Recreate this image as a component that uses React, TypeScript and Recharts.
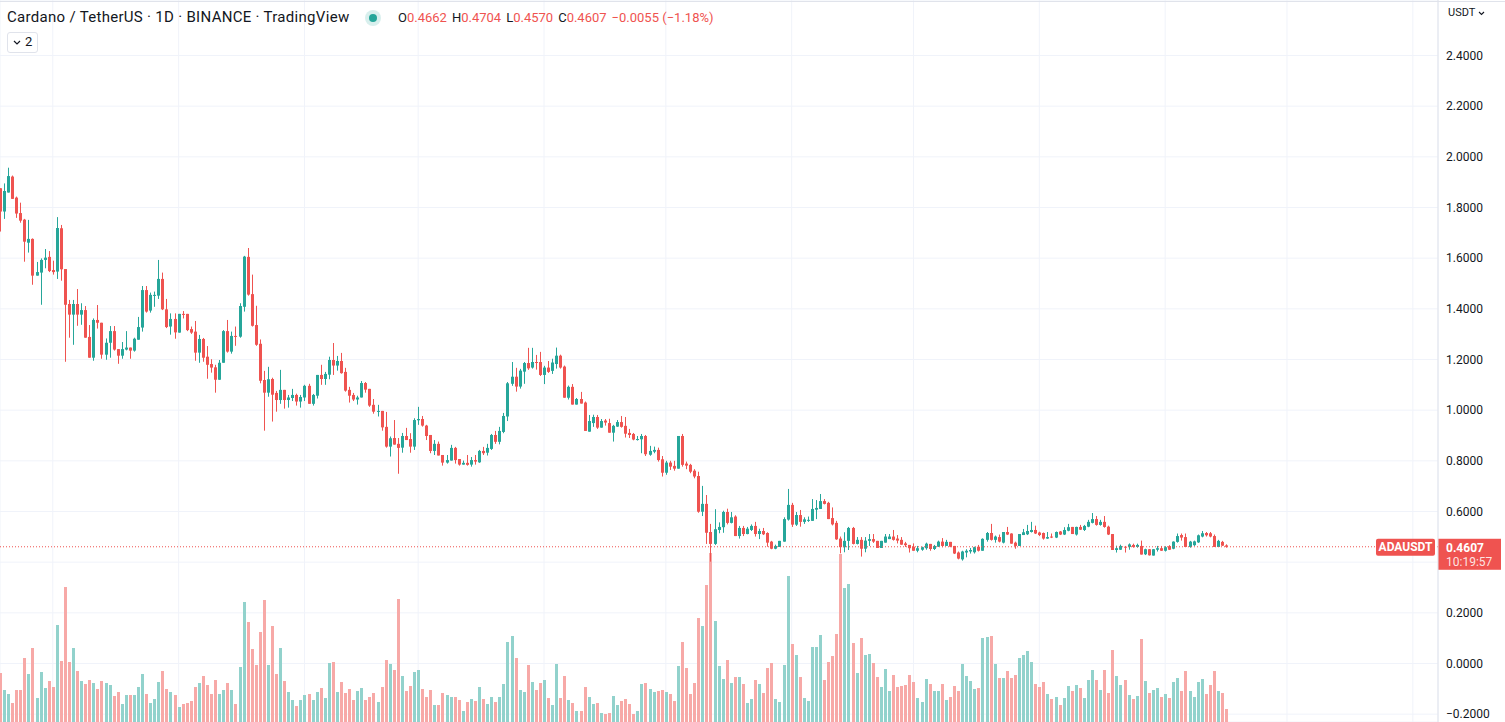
import React from "react";
import {
  ComposedChart,
  Bar,
  XAxis,
  YAxis,
  CartesianGrid,
  ReferenceLine
} from "recharts";

// ADA/USDT daily candles (oldest first)
const opens = [
  1.876, 1.784, 1.859, 1.922, 1.839, 1.778, 1.752, 1.661, 1.676, 1.531, 1.543, 1.593, 1.605, 1.553, 1.547, 1.718, 1.557, 1.419, 1.377, 1.419,
  1.377, 1.395, 1.289, 1.207, 1.356, 1.345, 1.219, 1.266, 1.312, 1.241, 1.215, 1.239, 1.247, 1.235, 1.278, 1.326, 1.474, 1.393, 1.451, 1.452,
  1.518, 1.398, 1.330, 1.360, 1.306, 1.380, 1.380, 1.320, 1.310, 1.227, 1.281, 1.211, 1.182, 1.169, 1.120, 1.187, 1.312, 1.231, 1.293, 1.290,
  1.408, 1.605, 1.458, 1.336, 1.262, 1.119, 1.069, 1.123, 1.068, 1.040, 1.080, 1.040, 1.048, 1.060, 1.034, 1.050, 1.096, 1.025, 1.057, 1.139,
  1.123, 1.140, 1.198, 1.176, 1.194, 1.151, 1.080, 1.060, 1.042, 1.050, 1.107, 1.084, 1.021, 0.994, 0.997, 0.934, 0.856, 0.890, 0.867, 0.852,
  0.898, 0.886, 0.856, 0.960, 0.965, 0.939, 0.902, 0.839, 0.867, 0.823, 0.793, 0.801, 0.851, 0.807, 0.785, 0.792, 0.785, 0.803, 0.794, 0.839,
  0.832, 0.847, 0.902, 0.875, 0.914, 0.975, 1.104, 1.132, 1.093, 1.152, 1.186, 1.168, 1.190, 1.190, 1.139, 1.168, 1.155, 1.182, 1.215, 1.172,
  1.049, 1.092, 1.022, 1.044, 1.030, 0.915, 0.949, 0.973, 0.931, 0.959, 0.949, 0.911, 0.935, 0.953, 0.938, 0.910, 0.906, 0.882, 0.885, 0.898,
  0.824, 0.836, 0.843, 0.806, 0.753, 0.793, 0.780, 0.769, 0.898, 0.789, 0.784, 0.761, 0.740, 0.599, 0.630, 0.519, 0.472, 0.527, 0.538, 0.598,
  0.555, 0.580, 0.503, 0.535, 0.511, 0.527, 0.543, 0.511, 0.523, 0.515, 0.481, 0.453, 0.460, 0.481, 0.568, 0.626, 0.548, 0.586, 0.559, 0.563,
  0.563, 0.607, 0.610, 0.641, 0.634, 0.574, 0.555, 0.493, 0.459, 0.484, 0.535, 0.472, 0.488, 0.453, 0.484, 0.491, 0.484, 0.456, 0.477, 0.491,
  0.501, 0.493, 0.488, 0.474, 0.468, 0.461, 0.445, 0.449, 0.455, 0.472, 0.452, 0.461, 0.481, 0.464, 0.480, 0.464, 0.438, 0.411, 0.438, 0.442,
  0.439, 0.461, 0.445, 0.488, 0.515, 0.488, 0.499, 0.477, 0.519, 0.513, 0.477, 0.464, 0.507, 0.510, 0.519, 0.527, 0.517, 0.515, 0.493, 0.501,
  0.497, 0.521, 0.509, 0.524, 0.539, 0.509, 0.539, 0.527, 0.540, 0.555, 0.570, 0.547, 0.559, 0.540, 0.511, 0.448, 0.449, 0.461, 0.460, 0.468,
  0.460, 0.464, 0.431, 0.451, 0.426, 0.449, 0.455, 0.445, 0.463, 0.453, 0.480, 0.507, 0.499, 0.460, 0.467, 0.478, 0.501, 0.515, 0.514, 0.503,
  0.460, 0.480, 0.4662
];

const highs = [
  1.876, 1.895, 1.957, 1.926, 1.843, 1.819, 1.755, 1.751, 1.678, 1.585, 1.599, 1.636, 1.628, 1.590, 1.762, 1.731, 1.557, 1.435, 1.435, 1.478,
  1.422, 1.411, 1.336, 1.362, 1.415, 1.345, 1.283, 1.332, 1.332, 1.241, 1.269, 1.312, 1.247, 1.286, 1.368, 1.490, 1.490, 1.464, 1.468, 1.593,
  1.543, 1.439, 1.382, 1.382, 1.380, 1.391, 1.380, 1.330, 1.352, 1.297, 1.285, 1.253, 1.201, 1.179, 1.198, 1.316, 1.356, 1.310, 1.330, 1.422,
  1.609, 1.640, 1.535, 1.412, 1.279, 1.155, 1.171, 1.128, 1.076, 1.159, 1.080, 1.060, 1.084, 1.065, 1.060, 1.100, 1.104, 1.064, 1.139, 1.179,
  1.151, 1.211, 1.265, 1.214, 1.226, 1.167, 1.092, 1.068, 1.057, 1.115, 1.111, 1.084, 1.044, 1.021, 0.997, 0.993, 0.896, 0.961, 0.890, 0.910,
  0.930, 0.909, 0.968, 1.013, 0.977, 0.942, 0.902, 0.882, 0.876, 0.823, 0.823, 0.863, 0.855, 0.807, 0.801, 0.823, 0.815, 0.823, 0.843, 0.855,
  0.867, 0.906, 0.918, 0.934, 0.989, 1.111, 1.190, 1.167, 1.163, 1.190, 1.246, 1.246, 1.218, 1.230, 1.175, 1.194, 1.203, 1.247, 1.219, 1.176,
  1.097, 1.103, 1.048, 1.072, 1.034, 0.981, 0.982, 0.981, 0.965, 0.965, 0.966, 0.942, 0.961, 0.977, 0.973, 0.926, 0.910, 0.898, 0.906, 0.902,
  0.859, 0.856, 0.852, 0.819, 0.800, 0.800, 0.800, 0.898, 0.906, 0.797, 0.788, 0.767, 0.757, 0.701, 0.665, 0.551, 0.609, 0.557, 0.603, 0.611,
  0.598, 0.585, 0.543, 0.543, 0.539, 0.549, 0.559, 0.532, 0.535, 0.518, 0.484, 0.469, 0.484, 0.577, 0.689, 0.634, 0.598, 0.606, 0.577, 0.580,
  0.649, 0.645, 0.669, 0.649, 0.638, 0.616, 0.563, 0.501, 0.518, 0.539, 0.539, 0.499, 0.499, 0.499, 0.511, 0.511, 0.484, 0.484, 0.511, 0.511,
  0.527, 0.507, 0.499, 0.480, 0.468, 0.474, 0.464, 0.461, 0.477, 0.472, 0.468, 0.485, 0.495, 0.488, 0.480, 0.464, 0.442, 0.445, 0.451, 0.456,
  0.461, 0.468, 0.494, 0.519, 0.551, 0.505, 0.509, 0.519, 0.539, 0.514, 0.481, 0.511, 0.531, 0.547, 0.559, 0.544, 0.520, 0.517, 0.519, 0.513,
  0.521, 0.523, 0.538, 0.551, 0.539, 0.540, 0.547, 0.547, 0.567, 0.594, 0.582, 0.567, 0.582, 0.544, 0.511, 0.465, 0.469, 0.464, 0.474, 0.473,
  0.473, 0.485, 0.453, 0.452, 0.452, 0.464, 0.464, 0.463, 0.467, 0.482, 0.513, 0.513, 0.513, 0.484, 0.485, 0.509, 0.523, 0.519, 0.519, 0.509,
  0.488, 0.484, 0.4704
];

const lows = [
  1.705, 1.755, 1.859, 1.834, 1.759, 1.740, 1.586, 1.622, 1.495, 1.531, 1.416, 1.560, 1.545, 1.535, 1.518, 1.511, 1.191, 1.286, 1.258, 1.333,
  1.337, 1.286, 1.207, 1.195, 1.322, 1.203, 1.199, 1.207, 1.235, 1.183, 1.203, 1.236, 1.203, 1.231, 1.278, 1.310, 1.385, 1.385, 1.408, 1.439,
  1.395, 1.324, 1.298, 1.282, 1.306, 1.362, 1.312, 1.301, 1.195, 1.187, 1.191, 1.124, 1.148, 1.069, 1.120, 1.187, 1.227, 1.223, 1.254, 1.286,
  1.389, 1.452, 1.330, 1.254, 1.106, 0.919, 1.053, 0.955, 0.994, 1.025, 1.006, 1.010, 1.036, 1.018, 1.010, 1.036, 1.025, 1.018, 1.046, 1.100,
  1.100, 1.122, 1.139, 1.156, 1.144, 1.073, 1.030, 1.036, 1.022, 1.050, 1.069, 1.013, 0.986, 0.975, 0.919, 0.852, 0.817, 0.864, 0.749, 0.832,
  0.882, 0.832, 0.843, 0.942, 0.935, 0.882, 0.830, 0.823, 0.821, 0.781, 0.789, 0.801, 0.789, 0.781, 0.785, 0.781, 0.777, 0.785, 0.792, 0.823,
  0.821, 0.843, 0.867, 0.865, 0.909, 0.957, 1.096, 1.073, 1.085, 1.104, 1.159, 1.164, 1.160, 1.135, 1.103, 1.147, 1.143, 1.164, 1.164, 1.049,
  1.042, 1.022, 1.022, 1.026, 0.918, 0.915, 0.934, 0.926, 0.931, 0.939, 0.911, 0.876, 0.934, 0.931, 0.892, 0.890, 0.881, 0.880, 0.830, 0.819,
  0.820, 0.830, 0.797, 0.738, 0.745, 0.764, 0.761, 0.769, 0.777, 0.767, 0.751, 0.731, 0.595, 0.582, 0.472, 0.402, 0.468, 0.514, 0.516, 0.549,
  0.553, 0.503, 0.493, 0.503, 0.510, 0.523, 0.501, 0.491, 0.507, 0.461, 0.451, 0.451, 0.460, 0.481, 0.564, 0.539, 0.543, 0.540, 0.551, 0.559,
  0.563, 0.570, 0.610, 0.628, 0.570, 0.545, 0.488, 0.435, 0.439, 0.448, 0.470, 0.470, 0.422, 0.439, 0.464, 0.476, 0.456, 0.456, 0.477, 0.491,
  0.485, 0.474, 0.469, 0.460, 0.438, 0.445, 0.439, 0.445, 0.449, 0.445, 0.448, 0.460, 0.459, 0.464, 0.459, 0.432, 0.411, 0.406, 0.419, 0.434,
  0.434, 0.442, 0.445, 0.481, 0.485, 0.477, 0.478, 0.474, 0.507, 0.473, 0.453, 0.464, 0.507, 0.507, 0.517, 0.511, 0.503, 0.489, 0.492, 0.495,
  0.495, 0.507, 0.507, 0.522, 0.511, 0.505, 0.527, 0.523, 0.538, 0.553, 0.544, 0.544, 0.536, 0.507, 0.448, 0.438, 0.448, 0.438, 0.449, 0.457,
  0.457, 0.430, 0.428, 0.426, 0.426, 0.442, 0.444, 0.442, 0.448, 0.451, 0.477, 0.485, 0.460, 0.457, 0.464, 0.476, 0.498, 0.501, 0.498, 0.460,
  0.460, 0.464, 0.4570
];

const closes = [
  1.784, 1.865, 1.924, 1.834, 1.776, 1.748, 1.665, 1.676, 1.531, 1.545, 1.593, 1.602, 1.549, 1.545, 1.719, 1.556, 1.416, 1.377, 1.419, 1.377,
  1.395, 1.286, 1.207, 1.356, 1.345, 1.219, 1.266, 1.312, 1.239, 1.215, 1.241, 1.247, 1.235, 1.282, 1.328, 1.474, 1.389, 1.455, 1.455, 1.518,
  1.398, 1.328, 1.360, 1.307, 1.380, 1.376, 1.316, 1.306, 1.227, 1.281, 1.207, 1.179, 1.168, 1.120, 1.187, 1.312, 1.231, 1.293, 1.290, 1.411,
  1.606, 1.456, 1.333, 1.258, 1.116, 1.069, 1.122, 1.061, 1.040, 1.080, 1.040, 1.050, 1.060, 1.034, 1.052, 1.096, 1.025, 1.060, 1.139, 1.123,
  1.143, 1.198, 1.176, 1.194, 1.146, 1.077, 1.057, 1.042, 1.050, 1.107, 1.081, 1.018, 0.994, 0.997, 0.932, 0.856, 0.889, 0.864, 0.851, 0.898,
  0.882, 0.856, 0.961, 0.965, 0.939, 0.898, 0.839, 0.867, 0.821, 0.793, 0.803, 0.851, 0.803, 0.785, 0.792, 0.784, 0.803, 0.797, 0.839, 0.830,
  0.851, 0.902, 0.875, 0.918, 0.977, 1.106, 1.132, 1.093, 1.156, 1.186, 1.165, 1.190, 1.188, 1.139, 1.168, 1.151, 1.188, 1.215, 1.168, 1.049,
  1.092, 1.022, 1.044, 1.026, 0.918, 0.957, 0.973, 0.931, 0.957, 0.951, 0.911, 0.938, 0.953, 0.934, 0.907, 0.902, 0.884, 0.886, 0.898, 0.826,
  0.839, 0.843, 0.803, 0.753, 0.793, 0.777, 0.769, 0.898, 0.784, 0.781, 0.757, 0.738, 0.599, 0.630, 0.516, 0.472, 0.530, 0.539, 0.598, 0.555,
  0.577, 0.503, 0.535, 0.511, 0.532, 0.543, 0.511, 0.523, 0.510, 0.477, 0.453, 0.464, 0.484, 0.570, 0.626, 0.548, 0.586, 0.559, 0.569, 0.567,
  0.610, 0.614, 0.641, 0.630, 0.570, 0.549, 0.490, 0.459, 0.484, 0.535, 0.472, 0.488, 0.453, 0.485, 0.491, 0.481, 0.456, 0.484, 0.501, 0.501,
  0.488, 0.485, 0.469, 0.467, 0.455, 0.445, 0.455, 0.459, 0.473, 0.452, 0.464, 0.481, 0.464, 0.480, 0.461, 0.434, 0.414, 0.442, 0.445, 0.448,
  0.459, 0.445, 0.492, 0.515, 0.488, 0.501, 0.481, 0.519, 0.509, 0.473, 0.464, 0.511, 0.518, 0.523, 0.527, 0.513, 0.507, 0.493, 0.499, 0.497,
  0.519, 0.509, 0.527, 0.538, 0.511, 0.539, 0.528, 0.543, 0.559, 0.570, 0.547, 0.559, 0.539, 0.509, 0.448, 0.455, 0.464, 0.459, 0.470, 0.460,
  0.468, 0.430, 0.451, 0.427, 0.451, 0.455, 0.445, 0.459, 0.449, 0.481, 0.503, 0.497, 0.460, 0.481, 0.482, 0.506, 0.514, 0.506, 0.501, 0.460,
  0.484, 0.465, 0.4607
];

// volume, relative units
const volumes = [
  49, 32, 28, 19, 32, 32, 64, 48, 74, 24, 50, 34, 41, 35, 97, 61, 135, 60, 74, 51,
  41, 38, 42, 39, 33, 41, 39, 37, 26, 30, 18, 27, 27, 27, 35, 48, 28, 19, 23, 40,
  51, 33, 30, 27, 15, 18, 19, 21, 35, 39, 46, 37, 28, 42, 28, 32, 39, 32, 18, 55,
  120, 100, 73, 57, 90, 122, 57, 96, 48, 74, 41, 30, 22, 16, 22, 27, 28, 22, 30, 34,
  24, 59, 60, 30, 40, 29, 33, 22, 31, 34, 22, 25, 29, 20, 35, 62, 58, 52, 123, 46,
  31, 36, 50, 52, 33, 25, 32, 17, 17, 29, 27, 25, 25, 22, 11, 20, 23, 21, 35, 23,
  18, 25, 20, 25, 38, 80, 86, 64, 32, 30, 57, 40, 32, 39, 42, 24, 17, 58, 24, 46,
  22, 19, 11, 11, 35, 25, 18, 19, 9, 8, 9, 26, 17, 21, 23, 18, 8, 11, 38, 39,
  33, 30, 31, 32, 30, 28, 21, 56, 80, 54, 28, 39, 104, 96, 137, 169, 101, 56, 43, 62,
  39, 45, 45, 38, 19, 23, 42, 38, 29, 54, 59, 23, 20, 57, 146, 78, 67, 45, 24, 21,
  75, 75, 87, 42, 60, 66, 88, 168, 134, 138, 79, 49, 84, 67, 68, 59, 45, 35, 53, 31,
  47, 35, 36, 37, 47, 40, 24, 20, 43, 38, 31, 31, 38, 22, 25, 36, 31, 58, 46, 41,
  33, 34, 84, 85, 86, 58, 44, 44, 51, 44, 47, 64, 67, 71, 60, 38, 35, 40, 28, 23,
  25, 17, 24, 36, 31, 37, 34, 24, 42, 52, 42, 32, 52, 29, 72, 46, 37, 42, 27, 23,
  26, 83, 41, 29, 32, 34, 25, 28, 24, 40, 44, 31, 51, 31, 25, 40, 43, 28, 37, 51,
  31, 29, 13
];

// first day of each month, as candle number
const monthTicks = [14, 45, 76, 104, 135, 165, 196, 226, 257, 288, 318, 349];
const priceTicks = [-0.2, 0, 0.2, 0.4, 0.6, 0.8, 1.0, 1.2, 1.4, 1.6, 1.8, 2.0, 2.2, 2.4];

const UP = "#26a69a";
const DOWN = "#ef5350";
const UP_VOL = "#92d2cc";
const DOWN_VOL = "#f7a9a7";
const TEXT = "#131722";
const FONT = "Roboto, 'Liberation Sans', sans-serif";

interface ICandle {
  i: number
  open: number
  high: number
  low: number
  close: number
  vol: number
}

const data: ICandle[] = opens.map((o, k) => ({
  i: k + 1,
  open: o,
  high: highs[k],
  low: lows[k],
  close: closes[k],
  vol: volumes[k]
}));

const last = data[data.length - 1];

const Candle = (props: any) => {
  const { x, y, width, height, payload } = props;
  if (!payload) return null;
  const { open, close, high, low } = payload as ICandle;
  const color = close >= open ? UP : DOWN;
  const top = Math.min(y, y + height);
  const h = Math.abs(height);
  const ratio = high > low ? h / (high - low) : 0;
  const bodyTop = top + (high - Math.max(open, close)) * ratio;
  const bodyH = Math.max(1, Math.abs(open - close) * ratio);
  const cx = Math.floor(x + width / 2);
  return (
    <g>
      <rect x={cx} y={top} width={1} height={Math.max(1, h)} fill={color} />
      <rect x={cx - 1} y={bodyTop} width={3} height={bodyH} fill={color} />
    </g>
  );
};

const VolBar = (props: any) => {
  const { x, y, width, height, payload } = props;
  if (!payload) return null;
  const cx = Math.floor(x + width / 2);
  const fill = payload.close >= payload.open ? UP_VOL : DOWN_VOL;
  return <rect x={cx - 1} y={y} width={3} height={Math.max(0, height)} fill={fill} />;
};

const fmtPrice = (v: number) => v.toFixed(4).replace("-", "\u2212");

// the last-price tag covers the 0.4 label, as on the original
const fmtTick = (v: number) => (Math.abs(v - 0.4) < 1e-9 ? "" : fmtPrice(v));

const PriceTag = (props: any) => {
  const vb = props.viewBox || {};
  const right = vb.x + vb.width;
  const y = vb.y;
  return (
    <g style={{ fontFamily: FONT }}>
      <rect x={right - 62} y={y - 8} width={59} height={17} rx={2} fill={DOWN} />
      <text x={right - 32.5} y={y + 4.5} textAnchor="middle" fill="#fff" fontSize={12} fontWeight={700}>ADAUSDT</text>
      <rect x={right} y={y - 8} width={63} height={31} fill={DOWN} />
      <text x={right + 8} y={y + 5} fill="#fff" fontSize={12} fontWeight={700}>{fmtPrice(last.close)}</text>
      <text x={right + 8} y={y + 19} fill="rgba(255,255,255,0.85)" fontSize={12}>10:19:57</text>
    </g>
  );
};

const Header = () => (
  <div style={{ position: "absolute", left: 0, top: 0, width: 1505, height: 60, fontFamily: FONT, color: TEXT, pointerEvents: "none" }}>
    <div style={{ position: "absolute", left: 0, top: 1, width: 1505, borderTop: "1px solid #e0e3eb" }} />
    <div style={{ position: "absolute", left: 7, top: 8, fontSize: 15, letterSpacing: 0.3, whiteSpace: "nowrap" }}>
      Cardano / TetherUS · 1D · BINANCE · TradingView
    </div>
    <svg style={{ position: "absolute", left: 363, top: 8 }} width={20} height={20}>
      <circle cx={10} cy={10} r={8} fill="rgba(38,166,154,0.18)" />
      <circle cx={10} cy={10} r={4} fill={UP} />
    </svg>
    <div style={{ position: "absolute", left: 398, top: 10, fontSize: 13, whiteSpace: "nowrap" }}>
      {[["O", "0.4662"], ["H", "0.4704"], ["L", "0.4570"], ["C", "0.4607"]].map(([k, v]) => (
        <span key={k} style={{ marginRight: 5 }}>
          {k}<span style={{ color: DOWN }}>{v}</span>
        </span>
      ))}
      <span style={{ color: DOWN }}>{"\u22120.0055 (\u22121.18%)"}</span>
    </div>
    <div style={{ position: "absolute", left: 7, top: 32, width: 29, height: 19, border: "1px solid #e0e3eb", borderRadius: 3, background: "#fff" }}>
      <svg style={{ position: "absolute", left: 5, top: 7 }} width={8} height={6}>
        <path d="M1 1 L4 4 L7 1" stroke={TEXT} strokeWidth={1.2} fill="none" />
      </svg>
      <span style={{ position: "absolute", left: 17, top: 1, fontSize: 13 }}>2</span>
    </div>
    <div style={{ position: "absolute", left: 1448, top: 6, fontSize: 11, whiteSpace: "nowrap" }}>
      USDT
      <svg style={{ marginLeft: 3, verticalAlign: "middle" }} width={7} height={5}>
        <path d="M1 1 L3.5 3.5 L6 1" stroke={TEXT} strokeWidth={1.1} fill="none" />
      </svg>
    </div>
  </div>
);

const App = () => {
  return (
    <div style={{ position: "absolute", left: 0, top: 0, width: 1505, height: 722, background: "#fff", overflow: "hidden" }}>
      <ComposedChart width={1505} height={722} data={data} margin={{ top: 0, right: 0, bottom: 0, left: 0 }}>
        <CartesianGrid xAxisId="p" yAxisId="p" stroke="#f0f3fa" />
        <XAxis xAxisId="p" type="number" dataKey="i" domain={[1, 355.2]} ticks={monthTicks} allowDataOverflow hide />
        <XAxis xAxisId="v" type="number" dataKey="i" domain={[1, 355.2]} allowDataOverflow hide />
        <YAxis
          yAxisId="p"
          orientation="right"
          type="number"
          domain={[-0.231, 2.619]}
          ticks={priceTicks}
          interval={0}
          allowDataOverflow
          width={67}
          tickLine={false}
          tickMargin={2}
          axisLine={{ stroke: "#e0e3eb" }}
          tick={{ fill: TEXT, fontSize: 12, fontFamily: FONT }}
          tickFormatter={fmtTick}
        />
        <YAxis yAxisId="v" type="number" domain={[0, 722]} allowDataOverflow hide />
        <Bar
          xAxisId="v"
          yAxisId="v"
          dataKey="vol"
          barSize={3}
          shape={VolBar}
          isAnimationActive={false}
        />
        <Bar
          xAxisId="p"
          yAxisId="p"
          dataKey={(d: ICandle) => [d.low, d.high]}
          barSize={3}
          shape={Candle}
          isAnimationActive={false}
        />
        <ReferenceLine
          xAxisId="p"
          yAxisId="p"
          y={last.close}
          stroke={DOWN}
          strokeDasharray="1 2"
          label={(p: any) => <PriceTag {...p} />}
        />
      </ComposedChart>
      <Header />
    </div>
  );
};

export default App;
